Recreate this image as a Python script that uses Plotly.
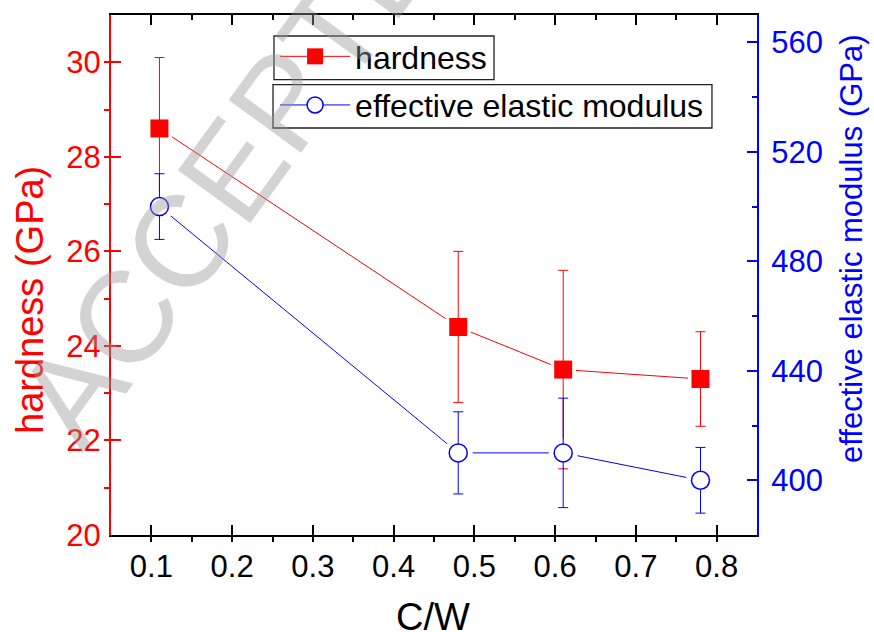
import plotly.graph_objects as go

# ---- data ----
cw = [0.11, 0.48, 0.61, 0.78]
hardness = [28.6, 24.4, 23.5, 23.3]
hardness_err = [1.5, 1.6, 2.1, 1.0]
modulus = [500, 410, 410, 400]
modulus_err = [12, 15, 20, 12]

RED = "#ff0000"
BLUE = "#0000ff"
FONT = "Liberation Sans, Arial, Helvetica, sans-serif"

fig = go.Figure()

# connecting lines (drawn first)
fig.add_trace(go.Scatter(x=cw, y=hardness, mode="lines", line=dict(color=RED, width=1),
                         showlegend=False, hoverinfo="skip"))
fig.add_trace(go.Scatter(x=cw, y=modulus, mode="lines", line=dict(color=BLUE, width=1),
                         yaxis="y2", showlegend=False, hoverinfo="skip"))
# white halos that open small gaps between lines and markers
fig.add_trace(go.Scatter(x=cw, y=hardness, mode="markers",
                         marker=dict(symbol="square", size=25, color="white", line=dict(width=0)),
                         showlegend=False, hoverinfo="skip"))
fig.add_trace(go.Scatter(x=cw, y=modulus, mode="markers", yaxis="y2",
                         marker=dict(symbol="circle", size=29, color="white", line=dict(width=0)),
                         showlegend=False, hoverinfo="skip"))
# modulus markers with error bars
fig.add_trace(go.Scatter(x=cw, y=modulus, mode="markers", yaxis="y2",
                         marker=dict(symbol="circle", size=18, color="white",
                                     line=dict(color=BLUE, width=1.5)),
                         error_y=dict(type="data", array=modulus_err, color=BLUE,
                                      thickness=1, width=5),
                         showlegend=False))
# hardness markers with error bars
fig.add_trace(go.Scatter(x=cw, y=hardness, mode="markers",
                         marker=dict(symbol="square", size=18, color=RED, line=dict(width=0)),
                         error_y=dict(type="data", array=hardness_err, color=RED,
                                      thickness=1, width=5),
                         showlegend=False))
# legend entries
fig.add_trace(go.Scatter(x=[None], y=[None], mode="lines+markers", name="hardness",
                         line=dict(color=RED, width=1), legendgroup="h",
                         marker=dict(symbol="square", size=18, color=RED)))
fig.add_trace(go.Scatter(x=[None], y=[None], mode="lines+markers", name="effective elastic modulus",
                         line=dict(color=BLUE, width=1), yaxis="y2", legendgroup="m",
                         marker=dict(symbol="circle", size=16, color="white",
                                     line=dict(color=BLUE, width=1.5))))
# carrier for the top mirror axis
fig.add_trace(go.Scatter(x=[None], y=[None], xaxis="x2", showlegend=False, hoverinfo="skip"))

xr = [0.05, 0.85]
common_x = dict(range=xr, showgrid=False, zeroline=False, showline=True,
                linecolor="black", linewidth=2)

fig.update_layout(
    width=874, height=632,
    template="none",
    paper_bgcolor="white", plot_bgcolor="white",
    margin=dict(l=111, r=117, t=15, b=97),
    font=dict(family=FONT, color="black"),
    xaxis=dict(**common_x, dtick=0.1, tick0=0, ticks="inside", ticklen=10, tickwidth=2,
               tickcolor="black", tickfont=dict(size=31, color="black"),
               ticklabelstandoff=3,
               minor=dict(dtick=0.05, ticks="outside", ticklen=5, tickwidth=2, tickcolor="black")),
    xaxis2=dict(**common_x, overlaying="x", side="top", dtick=0.1, tick0=0,
                ticks="inside", ticklen=10, tickwidth=2, tickcolor="black",
                showticklabels=False,
                minor=dict(dtick=0.05, ticks="inside", ticklen=5, tickwidth=2, tickcolor="black")),
    yaxis=dict(range=[20, 31], dtick=2, tick0=0, showgrid=False, zeroline=False,
               showline=True, linecolor=RED, linewidth=2,
               ticks="inside", ticklen=10, tickwidth=2, tickcolor=RED,
               tickfont=dict(size=31, color=RED), ticklabelstandoff=2,
               minor=dict(dtick=1, ticks="outside", ticklen=5, tickwidth=2, tickcolor=RED)),
    yaxis2=dict(range=[380, 570], dtick=40, tick0=0, overlaying="y", side="right",
                showgrid=False, zeroline=False,
                showline=True, linecolor=BLUE, linewidth=2,
                ticks="inside", ticklen=10, tickwidth=2, tickcolor=BLUE,
                tickfont=dict(size=31, color=BLUE), ticklabelstandoff=6,
                minor=dict(dtick=20, ticks="inside", ticklen=5, tickwidth=2, tickcolor=BLUE)),
    legend=dict(x=0.254, y=0.973, xanchor="left", yanchor="top",
                bgcolor="rgba(0,0,0,0)", borderwidth=0, tracegroupgap=4,
                font=dict(size=32, color="black"), itemwidth=70),
)

# frames around the two legend entries
for x0, x1, y0, y1 in [(0.2523, 0.5929, 0.8756, 0.9596), (0.2508, 0.9303, 0.7827, 0.8660)]:
    fig.add_shape(type="rect", xref="paper", yref="paper", x0=x0, x1=x1, y0=y0, y1=y1,
                  line=dict(color="#222222", width=1.3), fillcolor="rgba(0,0,0,0)")

# axis titles
fig.add_annotation(text="hardness (GPa)", xref="paper", yref="paper", x=-0.1254, y=0.452,
                   textangle=-90, showarrow=False, xanchor="center", yanchor="middle",
                   font=dict(size=38, color=RED, family=FONT))
fig.add_annotation(text="effective elastic modulus (GPa)", xref="paper", yref="paper",
                   x=1.147, y=0.55, textangle=-90, showarrow=False,
                   xanchor="center", yanchor="middle",
                   font=dict(size=31, color=BLUE, family=FONT))
fig.add_annotation(text="C/W", xref="paper", yref="paper", x=0.4985, y=-0.158,
                   showarrow=False, xanchor="center", yanchor="middle",
                   font=dict(size=38, color="black", family=FONT))
# watermark
fig.add_annotation(text="ACCEPTED MANUSCRIPT", xref="paper", yref="paper", x=0.6285, y=1.4538,
                   textangle=-54, showarrow=False, xanchor="center", yanchor="middle",
                   font=dict(size=130, color="rgba(150,150,150,0.42)", family=FONT))

fig.write_html("out.html", post_script="document.body.style.margin='0';",
               config={"displayModeBar": False})
